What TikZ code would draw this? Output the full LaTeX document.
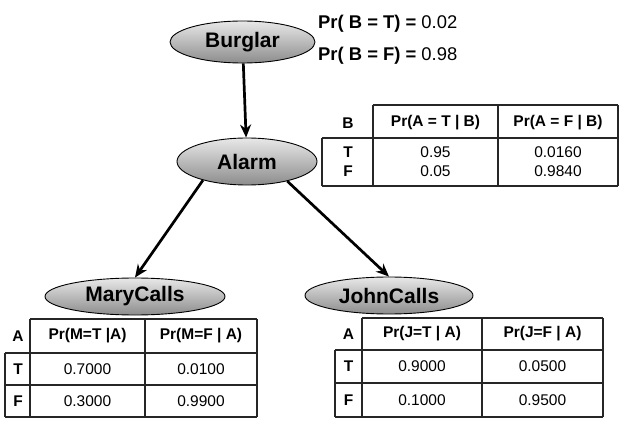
\documentclass[tikz,border=0pt]{standalone}
\usepackage{fontspec}
\setmainfont{Liberation Sans}
\usetikzlibrary{arrows.meta,shapes.geometric}

\begin{document}
\begin{tikzpicture}[>=Stealth, x=1pt, y=-1pt]

\tikzset{
    var/.style={
        ellipse,
        draw=black,
        line width=0.9pt,
        top color=gray!18,
        bottom color=gray!90,
        inner sep=0pt,
        font=\bfseries\fontsize{21}{24}\selectfont
    },
    cell/.style={inner sep=0pt, font=\fontsize{15.5}{18}\selectfont},
    head/.style={inner sep=0pt, font=\bfseries\fontsize{15.5}{18}\selectfont},
    grid/.style={line width=1.1pt, black!85},
    link/.style={->, line width=2.7pt, >={Stealth[length=13pt, width=11pt]}}
}

\useasboundingbox (0,0) rectangle (622,425);

% ---------------- NODES ----------------

\node[var, minimum width=145pt, minimum height=42pt] (burglar) at (242.5,42) {Burglar};
\node[var, minimum width=140pt, minimum height=47pt] (alarm) at (247,161.5) {Alarm};
\node[var, minimum width=180pt, minimum height=37pt] (mary) at (135,296.5) {MaryCalls};
\node[var, minimum width=168pt, minimum height=37pt] (john) at (389,295.5) {JohnCalls};


% ---------------- ARROWS ----------------

\draw[link] (burglar) -- (alarm);
\draw[link] (alarm.203) -- (mary.north);
\draw[link] (alarm.334) -- (john.north);


% ---------------- PRIOR ----------------

\node[anchor=west, inner sep=0pt, font=\fontsize{18.4}{21}\selectfont] (priorT) at (318,23.5)
    {\textbf{Pr( B = T) =} 0.02};
\node[anchor=west, inner sep=0pt, font=\fontsize{18.4}{21}\selectfont] (priorF) at (318,56)
    {\textbf{Pr( B = F) =} 0.98};


% ---------------- TAULA ALARM ----------------

\draw[grid] (373,105) -- (618,105);
\draw[grid] (322,138) -- (618,138);
\draw[grid] (322,186) -- (618,186);
\draw[grid] (322,138) -- (322,186);
\draw[grid] (373,105) -- (373,186);
\draw[grid] (498,105) -- (498,186);
\draw[grid] (618,105) -- (618,186);

\node[head] (aB)  at (348,123) {B};
\node[head] (aH1) at (435.5,123) {Pr(A = T | B)};
\node[head] (aH2) at (558,123) {Pr(A = F | B)};
\node[head] (aT)  at (348,152) {T};
\node[head] (aF)  at (348,171) {F};
\node[cell] (aTT) at (435.5,152) {0.95};
\node[cell] (aFT) at (435.5,171) {0.05};
\node[cell] (aTF) at (558,152) {0.0160};
\node[cell] (aFF) at (558,171) {0.9840};


% ---------------- TAULA MARY ----------------

\draw[grid] (30,319) -- (257,319);
\draw[grid] (5,353) -- (257,353);
\draw[grid] (5,385) -- (257,385);
\draw[grid] (5,417) -- (257,417);
\draw[grid] (5,353) -- (5,417);
\draw[grid] (30,319) -- (30,417);
\draw[grid] (145,319) -- (145,417);
\draw[grid] (257,319) -- (257,417);

\node[head] (mA)  at (18,336) {A};
\node[head] (mH1) at (87.5,336) {Pr(M=T |A)};
\node[head] (mH2) at (201,336) {Pr(M=F | A)};
\node[head] (mT)  at (18,369) {T};
\node[head] (mF)  at (18,401) {F};
\node[cell] (mTT) at (87.5,369) {0.7000};
\node[cell] (mFT) at (87.5,401) {0.3000};
\node[cell] (mTF) at (201,369) {0.0100};
\node[cell] (mFF) at (201,401) {0.9900};


% ---------------- TAULA JOHN ----------------

\draw[grid] (362,318) -- (603,318);
\draw[grid] (335,350) -- (603,350);
\draw[grid] (335,383) -- (603,383);
\draw[grid] (335,417) -- (603,417);
\draw[grid] (335,350) -- (335,417);
\draw[grid] (362,318) -- (362,417);
\draw[grid] (482,318) -- (482,417);
\draw[grid] (603,318) -- (603,417);

\node[head] (jA)  at (348.5,334) {A};
\node[head] (jH1) at (422,334) {Pr(J=T | A)};
\node[head] (jH2) at (542.5,334) {Pr(J=F | A)};
\node[head] (jT)  at (348.5,366.5) {T};
\node[head] (jF)  at (348.5,400) {F};
\node[cell] (jTT) at (422,366.5) {0.9000};
\node[cell] (jFT) at (422,400) {0.1000};
\node[cell] (jTF) at (542.5,366.5) {0.0500};
\node[cell] (jFF) at (542.5,400) {0.9500};

\end{tikzpicture}
\end{document}
